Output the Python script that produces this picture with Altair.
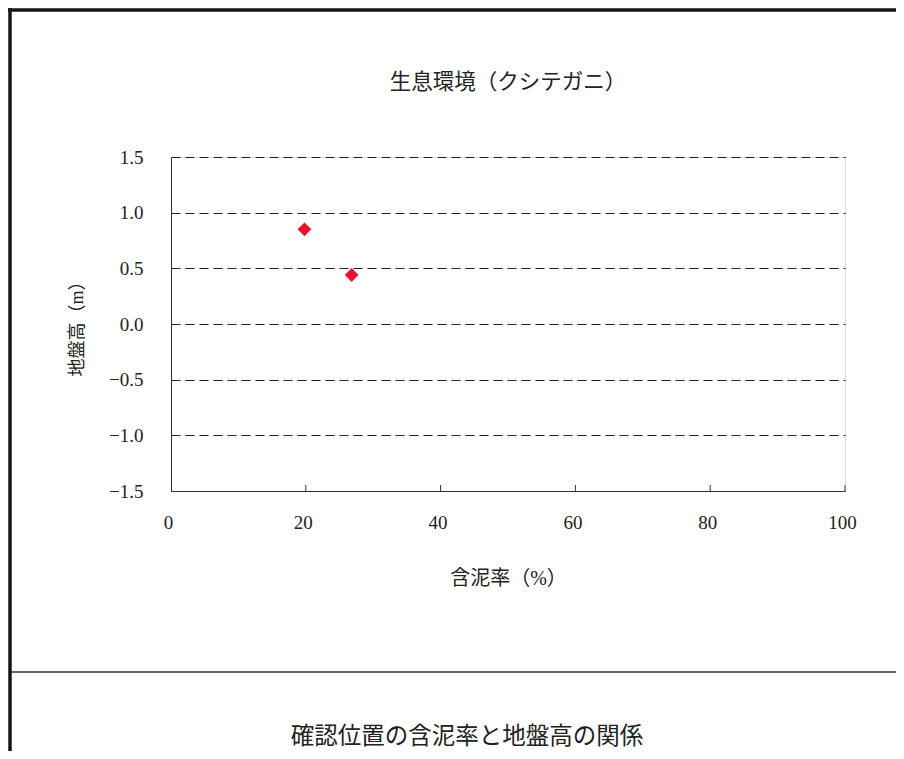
import altair as alt
import pandas as pd

# ---- data ----
mud_pct = [19.8, 26.8]          # 含泥率 (%)
elevation = [0.85, 0.44]        # 地盤高 (m)
x_ticks = [0, 20, 40, 60, 80, 100]
y_ticks = [-1.5, -1.0, -0.5, 0.0, 0.5, 1.0, 1.5]
inner_x_ticks = [20, 40, 60, 80, 100]

chart_title = "生息環境（クシテガニ）"
x_title = "含泥率（%）"
y_title = "地盤高（m）"
caption = "確認位置の含泥率と地盤高の関係"

FONT = "Liberation Serif, Noto Sans CJK JP"
W, H = 674, 334

pts = pd.DataFrame({"mud": mud_pct, "elev": elevation})
tk = pd.DataFrame({"t": inner_x_ticks})
one = pd.DataFrame({"c": [caption], "ttl": [chart_title]})

xscale = alt.Scale(domain=[0, 100], nice=False, zero=False)
yscale = alt.Scale(domain=[-1.5, 1.5], nice=False, zero=False)

xaxis = alt.Axis(values=x_ticks, grid=False, ticks=False, labelFlush=False,
                 labelFontSize=19, labelPadding=22, labelColor="#222", labelOffset=-3,
                 titleFontSize=20, titlePadding=36, titleFontWeight="normal",
                 titleColor="#222", domainColor="#333", labelFont=FONT,
                 titleFont=FONT, format="d")

points = alt.Chart(pts).mark_point(
    shape="diamond", filled=True, size=190, color="#e8142f", opacity=1
).encode(
    x=alt.X("mud:Q", scale=xscale, title=x_title, axis=xaxis),
    y=alt.Y("elev:Q", scale=yscale, title=y_title,
            axis=alt.Axis(values=y_ticks, grid=True, gridDash=[9, 5], gridColor="#222",
                          gridWidth=1, ticks=False, labelFontSize=19, labelPadding=28,
                          labelColor="#222", format=".1f", titleFontSize=18,
                          titlePadding=22, titleFontWeight="normal", titleColor="#222",
                          domainColor="#333", labelFont=FONT, titleFont=FONT)),
)

xticks = alt.Chart(tk).mark_rule(color="#333", strokeWidth=1).encode(
    x=alt.X("t:Q", scale=xscale, title=x_title, axis=xaxis),
    y=alt.value(H),
    y2=alt.value(H - 6),
)

left_border = alt.Chart(one).mark_rule(color="#15151c", strokeWidth=3.5, clip=False).encode(
    x=alt.value(-161), y=alt.value(-149), y2=alt.value(H + 260)
)
top_border = alt.Chart(one).mark_rule(color="#15151c", strokeWidth=3.5, clip=False).encode(
    x=alt.value(-163), x2=alt.value(W + 51), y=alt.value(-147)
)
separator = alt.Chart(one).mark_rule(color="#333", strokeWidth=1.5, clip=False).encode(
    x=alt.value(-161), x2=alt.value(W + 51), y=alt.value(515)
)
ttl = alt.Chart(one).mark_text(
    font=FONT, fontSize=21.5, color="#222", baseline="middle", align="center", clip=False
).encode(
    text="ttl:N", x=alt.value(W / 2), y=alt.value(-74)
)
cap = alt.Chart(one).mark_text(
    font=FONT, fontSize=23.5, color="#222", baseline="middle", align="center", clip=False
).encode(
    text="c:N", x=alt.value(296), y=alt.value(580)
)

chart = alt.layer(separator, left_border, top_border, xticks, points, ttl, cap).properties(
    width=W, height=H,
    autosize=alt.AutoSizeParams(type="none"),
    padding={"left": 163, "top": 149, "right": 51, "bottom": 260},
).configure_view(stroke=None).configure(background="white")

chart.save("out.html", embed_options={"renderer": "svg", "actions": False})
